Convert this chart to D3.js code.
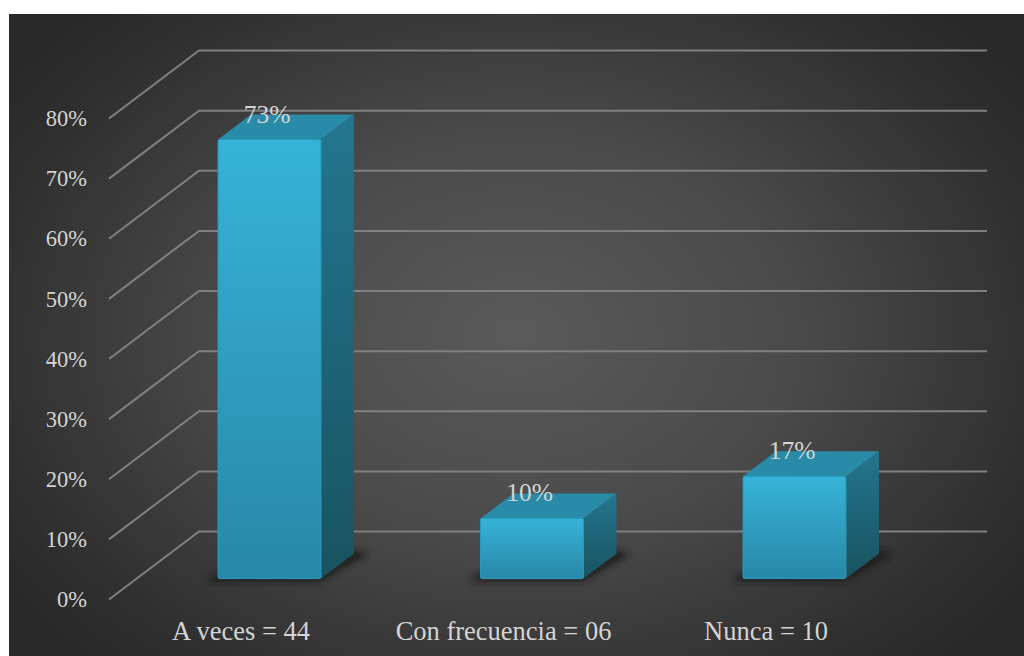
<!DOCTYPE html>
<html><head><meta charset="utf-8">
<script src="https://d3js.org/d3.v7.min.js"></script>
<style>html,body{margin:0;padding:0;background:#fff;overflow:hidden}svg{display:block}text{font-family:"Liberation Serif",serif}</style>
</head><body><div id="chart"></div>
<script>
const categories = ["A veces = 44", "Con frecuencia = 06", "Nunca = 10"];
const values = [73, 10, 17];
const valueLabels = ["73%", "10%", "17%"];
const ticks = [0, 10, 20, 30, 40, 50, 60, 70, 80];

const W = 1024, H = 656;
const svg = d3.select("#chart").append("svg").attr("width", W).attr("height", H);
const defs = svg.append("defs");

const bg = defs.append("radialGradient").attr("id", "bg").attr("gradientUnits", "userSpaceOnUse")
  .attr("cx", 516).attr("cy", 335).attr("r", 620)
  .attr("gradientTransform", "translate(516 335) scale(1 0.72) translate(-516 -335)");
[[0, "#5a5a5a"], [0.45, "#4a4a4a"], [0.85, "#303030"], [1, "#292929"]].forEach(([o, c]) =>
  bg.append("stop").attr("offset", o).attr("stop-color", c));

function vGrad(id, top, bottom) {
  const g = defs.append("linearGradient").attr("id", id).attr("x1", 0).attr("y1", 0).attr("x2", 0).attr("y2", 1);
  g.append("stop").attr("offset", 0).attr("stop-color", top);
  g.append("stop").attr("offset", 1).attr("stop-color", bottom);
}
vGrad("front", "#36b3d8", "#2888a7");
vGrad("side", "#237690", "#19535f");
defs.append("filter").attr("id", "blur").attr("x", "-30%").attr("y", "-100%").attr("width", "160%").attr("height", "300%")
  .append("feGaussianBlur").attr("stdDeviation", 3);
defs.append("filter").attr("id", "soft").attr("x", "-5%").attr("y", "-5%").attr("width", "110%").attr("height", "110%")
  .append("feGaussianBlur").attr("stdDeviation", 0.4);

svg.append("rect").attr("x", 9).attr("y", 14).attr("width", W - 9).attr("height", H - 14).attr("fill", "url(#bg)");

const y = d3.scaleLinear().domain([0, 80]).range([599.5, 118.5]);
const x = d3.scaleBand().domain(categories).range([138.25, 925.75]).paddingInner(0.608).paddingOuter(0.304);

const wallDX = 90, wallDY = -68, axisX = 109, wallEnd = 987;
const depthX = 33, depthY = -25, floorLift = 21;

// gridlines
const grid = svg.append("g").attr("fill", "none").attr("stroke", "#808080").attr("stroke-width", 2).attr("filter", "url(#soft)");
grid.selectAll("path").data(ticks).join("path")
  .attr("d", t => `M${axisX},${y(t)}L${axisX + wallDX},${y(t) + wallDY}L${wallEnd},${y(t) + wallDY}`);

// axis labels
const axis = d3.axisLeft(y).tickValues(ticks).tickFormat(t => t + "%").tickSize(0).tickPadding(0);
const axisG = svg.append("g").attr("transform", "translate(87,0)").call(axis);
axisG.select(".domain").remove();
axisG.selectAll("text").attr("fill", "#d4d4d4").style("font-size", "22.5px").style("font-family", '"Liberation Serif",serif').attr("dy", "0.32em");

// bars
const bars = svg.append("g").selectAll("g").data(categories.map((c, i) => ({c, v: values[i], l: valueLabels[i]}))).join("g");
const bx = d => x(d.c), bw = x.bandwidth();
const by = d => y(d.v) - floorLift, bb = y(0) - floorLift;

bars.append("path").attr("filter", "url(#blur)").attr("fill", "#1c1c1c").attr("opacity", 0.85)
  .attr("d", d => `M${bx(d) - 12},${bb + 3}L${bx(d) + bw},${bb + 3}L${bx(d) + bw + depthX + 14},${bb + depthY + 1}L${bx(d) + bw + depthX},${bb + depthY - 4}L${bx(d) + bw},${bb - 6}L${bx(d)},${bb - 6}Z`);
bars.append("path").attr("fill", "url(#side)")
  .attr("d", d => `M${bx(d) + bw},${by(d)}L${bx(d) + bw + depthX},${by(d) + depthY}L${bx(d) + bw + depthX},${bb + depthY}L${bx(d) + bw},${bb}Z`);
bars.append("path").attr("fill", "#2a8ba9")
  .attr("d", d => `M${bx(d)},${by(d)}L${bx(d) + depthX},${by(d) + depthY}L${bx(d) + bw + depthX},${by(d) + depthY}L${bx(d) + bw},${by(d)}Z`);
bars.append("rect").attr("x", bx).attr("y", by).attr("width", bw).attr("height", d => bb - by(d))
  .attr("rx", 1.5).attr("fill", "url(#front)").attr("stroke", "#2b9cc0").attr("stroke-width", 1);

// data labels
bars.append("text").attr("x", d => bx(d) + 49).attr("y", d => by(d) - 17).attr("text-anchor", "middle")
  .attr("fill", "#d4d4d4").style("font-size", "25.5px").text(d => d.l);

// category labels
bars.append("text").attr("x", d => bx(d) + 23).attr("y", 639.5).attr("text-anchor", "middle")
  .attr("fill", "#d4d4d4").style("font-size", "26.5px").text(d => d.c);
</script></body></html>
